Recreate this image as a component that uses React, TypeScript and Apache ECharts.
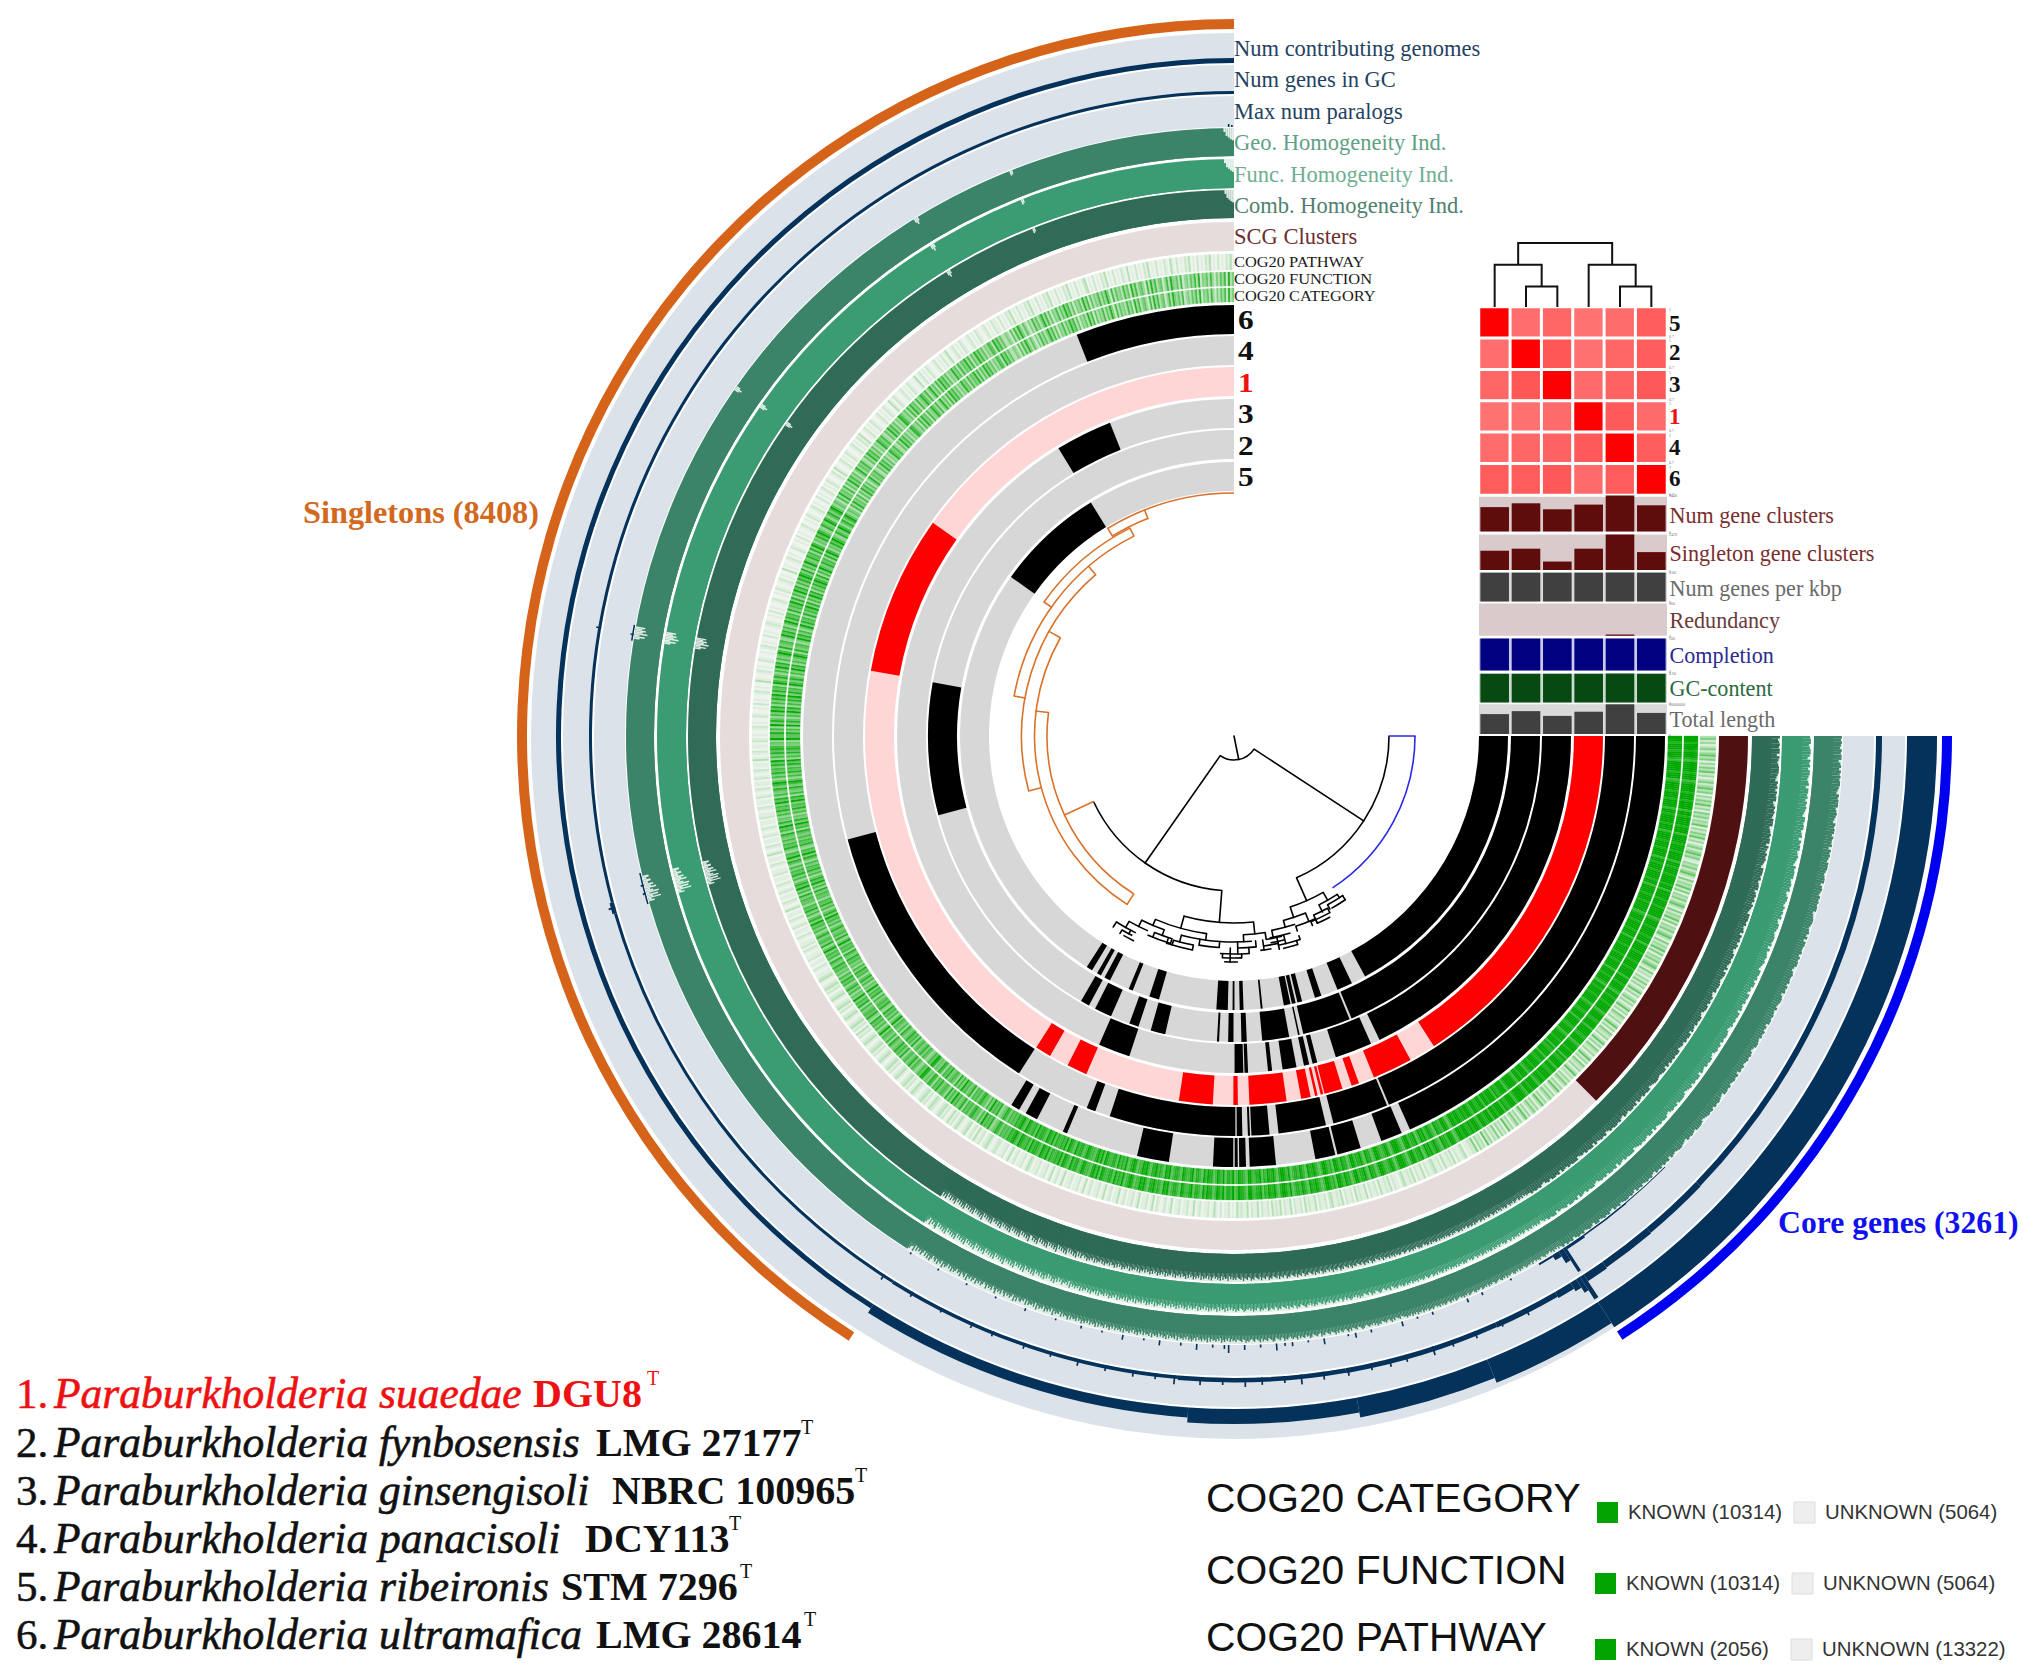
import React, { useEffect, useRef } from "react";
import * as echarts from "echarts";

// ---------- data (angles are positions along the 270 degree gene-cluster tree) ----------
const coreSpan = [0, 57.25];
const singletonSpan = [122.5, 270];

const ring5Present = [[0,61.4],[64.5,67.8],[71.4,72.8],[75.6,76.6],[77,77.8],[78.1,79.5],[84,84.4],[88,88.8],[89.9,90.3],[91.3,93.7],[105.9,108],[111.7,112.6],[116.9,118.2],[119.1,120],[121.2,122.5],[215.5,238.5]];
const ring2Present = [[0,67.4],[67.8,76.9],[77.6,77.9],[79.6,84.7],[87.6,88.6],[90.1,91.1],[92.8,93.2],[103,105.8],[108.2,110],[113.7,117],[118.3,120],[165,190.1]];
const ring3Present = [[0,64.4],[66,72.4],[75.7,76.5],[77.1,78],[79.3,81.7],[83.5,84.2],[87.6,88.2],[88.4,89.9],[108.1,113.6],[238.6,248.4]];
const ring1Present = [[0,57.2],[61.4,67.7],[70.2,71.4],[72.9,75.8],[76,76.4],[76.9,77.3],[78,79.5],[81.8,87.6],[89.4,90.1],[93.3,98.6],[113.6,116.8],[119.9,122.4],[190.2,215.3]];
const ring4Present = [[0,67.2],[67.5,75.6],[76.7,83.6],[84.9,87.5],[87.7,88],[88.8,89.6],[89.8,108.1],[110.3,111.6],[122.5,165]];
const ring6Present = [[0,65.9],[67.1,70],[72.9,76.1],[76.4,79.1],[84.4,87.9],[88.4,89.3],[89.5,89.9],[90.1,92.8],[98.7,103],[112.8,113.4],[117.2,118.9],[119.9,121.1],[248.6,270]];

const scgSpan = [[0, 45.2, 1]];

// one string per 30 degrees, digit = share of known functions in the bin
const cogKnownBins = [
  "999899989998799999899978999989998999979989999899979999899989999799899989999899799998999899999789998999989997999989999899",
  "989999799989998799899989999789998899979999889997899989997988999799889998998799989978999987999889799989979988997899898899",
  "899768997889678987989769887998678999768987789976889679887997688978996878997678988967897887697899867988978698877996788976",
  "978869789768897967886987789678876989678798867989776898769787968877896979867789768879678969787786978967887968778967987867",
  "675786548676957466875767486576957584676586747856589675467586576485768656847567596475768458676574867595647586476857465768",
  "568476759648576586475769586475867466758475968647586757468596745867575684769585647586759684756857964758675869475868756496",
  "685749586475968475869586749758647596847569748567459685746958674857695847596847586975847596586748597465869754865974685796",
  "465374856473648574635846574364857463548657436485746354875463748563745864735846374857463548563746584736485746354763857463",
  "354263748536425374635847362547364857362546384726354736485273645374628473564273847356247385463724536473825463742536472835",
];
const cogPathwayBins = [
  "352413524635142536241352463514253624153524361425362413524635214352463152436251435246315243625143524631524362514352463152",
  "314252413624135241362415324136241532413624153241362415324136231425314263142531426314253142631425314261324152314261324152",
  "211032112031211302113211203112031211320112031211302112031121302112031211320211203112130211203112031213021120311203112130",
  "102110201310211021031021102110310210120310211031021102103110210310211021031021102110310210310211021102310211021031021102",
  "210132102113021032101320213102132101231021321012310213210132102132101321021321013210213021321013210213210132102132101321",
  "101201102110120211012011021012011031012011021012011021101201103101201102101201102110120110210120110210120110310120110210",
  "100120100210010201001201003100120100210010120100201001210010201001200102100120100301001201002100102010012001021001201002",
  "010120102100120310012010210012010213001201021001201021003102100120102100130120102100120102013001201021001201021001201021",
  "102010213010201021301020102130102010213010201023010201021301020102103010201021301020102103102010213010201021301020102130",
];

// homogeneity digits: value = 0.7 + 0.033 * digit
const geoCore = "989879899689798989987698999789876989979889698987999878996898798989967899878979699889798997689889798968998797898996879897899768989879896989879899678989798987689997898967899878969897989679898798968989987989679898799689879898698979";
const funcCore = "899789986989799878969989798987699899789698997898769899978989679987989896799878998969789898769989799786998978969989897689989798986799897896998979876899979898679989879699789898769998978969899798986799897896989979878699897";
const combCore = "978989969878999876989798996798987999678989969879898769998978996898979876999897896989798679989879699878998967989799867998978969989787699898979699878998769989789698997896798998976989879699897876999897896989979867989897";
const geoAcc =
  "768576867567687658767568576786576857687567685768756786576857678567687567857686756785768657867586756867857685768576857686" +
  "654765475864576547685746576457865476547586457647586547654768457654785647657486576457685476547865476574865476457685476547" +
  "564736475836475647385647563746857364756483756473857463756483756473648573647564837564736485637564738564736475846375647385" +
  "463725463815364725463816354627143652738146352741635284163527314625371462538164273514637251463815372641583726147352618347";
const funcAcc =
  "876578686758768657867586768578657867568576857867586785768657867568785768586768576857867586785678657867586768576857867568" +
  "675486576457865476854765476857465786574685476578647568476547685746587654768547658476547685476578465768547685746578654768" +
  "574637485647385647584736574836574638574637485637465847365748364758463756483746583746574836475846375648374658473657483647" +
  "463816354725163847251638472635184726351847263518472635294736251847362518463725184736251847362518473625184736251973628147";
const combAcc =
  "786758678567857686578675867586786578675867856768578678567586786576857867586768578676857867568786576867856786578675867586" +
  "675864765476854765864765476586476547685476586475476854765847654768547658476547685476584765476854765847654768547658476547" +
  "574638564738574635847365748364758463748563746584736574836475846374856374658473657483647584637485637465847365748364758463" +
  "472618473625184736251947362518473625184736219473625184736251847362518472635184736251947362518473625184736251846372518473";
const homDips = [[164.2,164.35,0.78],[164.35,164.5,0.88],[164.5,164.62,0.52],[164.62,164.75,0.8],[164.75,164.9,0.6],[164.9,165,0.86],[165,165.15,0.55],[165.15,165.3,0.74],[165.3,165.45,0.84],[165.45,165.6,0.6],[165.6,165.75,0.78],[165.75,165.9,0.68],[165.9,166.1,0.86],[166.1,166.3,0.74],[166.3,166.5,0.88],[166.5,166.7,0.78],[189.2,189.35,0.8],[189.35,189.5,0.62],[189.5,189.65,0.82],[189.65,189.8,0.54],[189.8,189.95,0.72],[189.95,190.1,0.62],[190.1,190.25,0.76],[190.25,190.4,0.66],[214.7,214.85,0.82],[214.85,215,0.74],[215,215.15,0.84],[238.2,238.35,0.84],[238.35,238.5,0.76],[238.5,238.65,0.86],[248.3,248.45,0.82],[248.45,248.6,0.86],[269,269.2,0.86],[269.2,269.4,0.72],[269.4,269.6,0.66],[269.6,269.8,0.6],[269.8,270,0.56]];

const contributingSteps = [[0,57.25,6],[57.25,67.9,5],[67.9,79.5,4],[79.5,93.9,3],[93.9,122.4,2],[122.4,270,1]];
const geneLevels = [[0,44,6],[44,50,6.5],[50,55,7],[55,57,8],[57,57.4,27],[57.4,57.8,16],[57.8,58.4,10],[58.4,60,7],[60,66,5.5],[66,80,5],[80,95,4.5],[95,122,3.5],[122,164,3],[164,165,4.5],[165,270,3]];
const geneSpikes = [[63,8],[65.5,7],[68,7.5],[70.2,7],[72,9],[74.5,7.5],[76,8],[77.7,7],[79.8,8],[82,8],[84,10],[85.5,7],[87.5,7.5],[89,9],[91,7],[93,8],[95.3,9],[97,6],[99,6.5],[101.5,6],[104,7],[106.5,5.5],[109,6],[112,5.5],[114,6],[117,5],[120,5.5],[123,6],[164.5,7],[189.7,5]];
const paralogLevels = [[45,50,1],[50,55,1.5],[55,57,3],[57,57.3,28],[57.3,57.8,14],[57.8,58.5,6],[58.5,60,2],[164,167,1.5],[189,190.5,1.5]];
const paralogSpikes = [[63,2],[66,3],[67.5,4],[71,3],[72.5,2],[74,5],[77,3],[78.5,5],[79.2,2],[81.5,6],[83,2],[84.5,4],[85.2,3],[86,7],[87.5,3],[89,5],[90.5,8],[90.9,4],[92,3],[93.5,6],[95,3],[97,5],[98.5,2],[100.5,5],[102.5,2],[104.5,3],[107,2],[110,3],[113,2],[116,2],[119,2],[122,2],[165,3],[165.8,3],[189.6,3],[269.5,3],[269.8,2]];

// radial dendrogram: arcs [radius, from, to], radials [angle, from radius, to radius]
const treeArcsBlack = [[24,33.2,125],[155,0,66.2],[155,94.5,154.8],[180,60.3,71.8],[187,84,105.7],[189,56.9,63.3],[193,55.5,61],[198,55.8,60.5],[196,61.5,66],[201,61.5,67.5],[205,62,66],[191,68,75],[200,66,72],[198,72,79],[205,74,80],[210,76,80],[214,72,78],[218,73,77],[199.5,97.9,113.2],[206,94,104.8],[212,94,99.5],[213,101,106.5],[218,101,108],[206,109.8,116.6],[212,107,112],[217,107,113.5],[213,113.8,119.5],[220,116.5,122.3],[224,117,120],[228,116,119],[199,81,87.3],[206,85,94],[206,76.5,81],[212,84,89],[218,86,93.7],[222,88,93],[226,89,92.5],[212,78,82],[216,80,83]];
const treeRadialsBlack = [[78.6,0,24],[125,24,155],[33.2,24,155],[66.2,155,180],[94.5,155,187],[60.3,180,189],[56.9,189,193],[61,193,198],[55.8,193,198],[63.3,189,197],[61.5,196,201],[66,196,205],[67.5,201,205],[71.8,180,191],[68,191,200],[66,200,205],[72,200,205],[75,191,198],[79,198,205],[76,205,214],[72,210,214],[78,210,218],[73,214,218],[105.5,187,199.5],[84,187,199],[97.9,199.5,206],[94,206,212],[99.5,206,212],[104.8,206,213],[101,213,218],[108,213,218],[106.5,213,218],[113.2,199.5,206],[109.8,206,212],[112,212,217],[107,212,217],[116.6,206,213],[119.5,213,220],[122.3,220,226],[118,220,224],[120,224,228],[87.3,199,206],[81,199,206],[84,206,212],[89,206,218],[86,212,218],[91,212,226],[88,218,222],[93,218,222],[78,206,212],[82,206,216]];
const treeArcsOrange = [[187,122.6,187.2],[199.5,122.3,209.5],[212.5,165,229.4],[223.5,190.3,243.4],[232.5,215.2,243.4],[234,238.7,248.5],[243,238.7,270]];
const treeRadialsOrange = [[155,155,187],[122.4,187,199.5],[187.2,187,200],[165,200,212.5],[209.5,200,212.5],[190.3,212.5,223.5],[229.4,212.5,223.5],[215.2,223.5,232.5],[243.4,223.5,232.5],[238.7,234,243],[248.4,234,243]];
const treeArcsBlue = [[181,0,57]];
const treeRadialsBlue = [[0,155,181]];

// genome similarity matrix
const genomeOrder = ["5", "2", "3", "1", "4", "6"];
const similarity = [
  [1, 0.871, 0.88, 0.866, 0.873, 0.892],
  [0.871, 1, 0.899, 0.868, 0.88, 0.892],
  [0.88, 0.899, 1, 0.875, 0.885, 0.896],
  [0.866, 0.868, 0.875, 1, 0.894, 0.875],
  [0.873, 0.88, 0.885, 0.894, 1, 0.892],
  [0.892, 0.892, 0.896, 0.875, 0.892, 1],
];
// column dendrogram: [left x, right x, left foot, right foot, top]
const columnTree = [
  [1.5, 2.5, 0, 0, 0.32],
  [0.5, 2, 0, 0.32, 0.66],
  [4.5, 5.5, 0, 0, 0.32],
  [3.5, 5, 0, 0.32, 0.66],
  [1.25, 4.25, 0.66, 0.66, 1],
];
const numGeneClusters = [6400, 7400, 5830, 7060, 9448, 6880];
const singletonClusters = [1318, 1457, 578, 1457, 2428, 1225];
const genesPerKbp = [4.97, 4.98, 4.97, 4.98, 5.0, 4.98];
const redundancy = [0, 0, 0, 0, 4, 0];
const completion = [99.9, 99.9, 99.9, 99.9, 100, 99.9];
const gcContent = [0.595, 0.595, 0.595, 0.595, 0.6, 0.595];
const totalLength = [6700000, 7700000, 6100000, 7500000, 10000000, 7100000];

const ringLabels = [["6",320],["4",351],["1",383],["3",414],["2",446],["5",477]];
const layerTitles = [
  ["Num contributing genomes", 48, "#1f4263"],
  ["Num genes in GC", 79, "#1f4263"],
  ["Max num paralogs", 111, "#1f4263"],
  ["Geo. Homogeneity Ind.", 142, "#5f9f85"],
  ["Func. Homogeneity Ind.", 174, "#6fae93"],
  ["Comb. Homogeneity Ind.", 205, "#4f8070"],
  ["SCG Clusters", 236, "#6b2f2f"],
];
const cogTitles = [["COG20 PATHWAY", 262], ["COG20 FUNCTION", 279], ["COG20 CATEGORY", 296]];
const barTitles = [
  ["Num gene clusters", 515, "#7a2d2d", "9448"],
  ["Singleton gene clusters", 553, "#7a2d2d", "2428"],
  ["Num genes per kbp", 588, "#6a6a6a", "5.00"],
  ["Redundancy", 620, "#6b3a3a", "100"],
  ["Completion", 655, "#2a2a90", "100"],
  ["GC-content", 688, "#2b6a3c", "0.60"],
  ["Total length", 719, "#6a6a6a", "10000000"],
];
const species = [
  ["1.", "Paraburkholderia suaedae", "DGU8", 1393, "#ee1111", 533, 647],
  ["2.", "Paraburkholderia fynbosensis", "LMG 27177", 1442, "#111111", 596, 801],
  ["3.", "Paraburkholderia ginsengisoli", "NBRC 100965", 1490, "#111111", 612, 855],
  ["4.", "Paraburkholderia panacisoli", "DCY113", 1538, "#111111", 585, 729],
  ["5.", "Paraburkholderia ribeironis", "STM 7296", 1586, "#111111", 561, 740],
  ["6.", "Paraburkholderia ultramafica", "LMG 28614", 1634, "#111111", 596, 804],
];
const cogLegend = [
  ["COG20 CATEGORY", 1498, "KNOWN (10314)", "UNKNOWN (5064)", 1512, 1597, 1794],
  ["COG20 FUNCTION", 1570, "KNOWN (10314)", "UNKNOWN (5064)", 1583, 1595, 1792],
  ["COG20 PATHWAY", 1637, "KNOWN (2056)", "UNKNOWN (13322)", 1649, 1595, 1791],
];

// ---------- helpers ----------
const SERIF = '"Liberation Serif", serif';
const SANS = '"Liberation Sans", sans-serif';
const mix = (t: number) => {
  const a = [238, 243, 238], b = [0, 168, 0];
  const k = Math.pow(t, 1.25);
  const c = a.map((v, i) => Math.round(v + (b[i] - v) * k));
  return `rgb(${c[0]},${c[1]},${c[2]})`;
};
const digitBins = (chunks: string[], span: number) => {
  const out: number[][] = [];
  chunks.forEach((s, k) => {
    const w = span / s.length;
    for (let i = 0; i < s.length; i++) out.push([k * span + i * w, k * span + (i + 1) * w, +s[i]]);
  });
  return out;
};
const spanBins = (s: string, from: number, to: number) => {
  const w = (to - from) / s.length;
  return Array.from(s).map((d, i) => [from + i * w, from + (i + 1) * w, 0.7 + 0.033 * +d]);
};
const polar = (api: any, cs: any, r: number, a: number) => {
  const p = api.coord([r, a]);
  return { r: Math.hypot(p[0] - cs.cx, p[1] - cs.cy), a: Math.atan2(p[1] - cs.cy, p[0] - cs.cx) };
};
const sector = (api: any, cs: any, lo: number, hi: number, a0: number, a1: number, style: any) => {
  const s = polar(api, cs, lo, a0);
  const e = polar(api, cs, hi, a1);
  let end = e.a;
  if (end <= s.a) end += Math.PI * 2;
  return {
    type: "sector",
    silent: true,
    shape: { cx: cs.cx, cy: cs.cy, r0: s.r, r: e.r, startAngle: s.a, endAngle: end, clockwise: true },
    style,
  };
};
const polarCustom = (data: any[], renderItem: any) => ({
  type: "custom", coordinateSystem: "polar", polarIndex: 0, clip: false, silent: true, data, renderItem,
});
const ring = (data: any[], inner: number, outer: number, max: number, color: string, opts: { seam?: boolean; fromTop?: boolean } = {}) =>
  polarCustom(data, (params: any, api: any) => {
    const v = api.value(2);
    const h = inner + ((outer - inner) * Math.min(v, max)) / max;
    return sector(api, params.coordSys, opts.fromTop ? h : inner, opts.fromTop ? outer : h, api.value(0), api.value(1),
      opts.seam ? { fill: color, stroke: color, lineWidth: 0.3 } : { fill: color });
  });
// COG bins fill the full height of their ring, their colour comes from the digit
const cogRing = (data: number[][], inner: number, outer: number) =>
  polarCustom(data, (params: any, api: any) => {
    const fill = mix(api.value(2) / 9);
    return sector(api, params.coordSys, inner, outer, api.value(0), api.value(1), { fill, stroke: fill, lineWidth: 0.3 });
  });
const spikes = (list: number[][], w: number) => list.map(([a, v]) => [a - w / 2, a + w / 2, v]);
const arcSeries = (data: number[][], stroke: string, lw: number) =>
  polarCustom(data, (params: any, api: any) => {
    const cs = params.coordSys;
    const s = polar(api, cs, api.value(0), api.value(1));
    const e = polar(api, cs, api.value(0), api.value(2));
    let end = e.a;
    if (end <= s.a) end += Math.PI * 2;
    return { type: "arc", silent: true, shape: { cx: cs.cx, cy: cs.cy, r: s.r, startAngle: s.a, endAngle: end, clockwise: true }, style: { stroke, lineWidth: lw, fill: null } };
  });
const radialSeries = (data: number[][], stroke: string, lw: number) =>
  polarCustom(data, (_params: any, api: any) => {
    const p = api.coord([api.value(1), api.value(0)]);
    const q = api.coord([api.value(2), api.value(0)]);
    return { type: "line", silent: true, shape: { x1: p[0], y1: p[1], x2: q[0], y2: q[1] }, style: { stroke, lineWidth: lw, lineCap: "round" } };
  });

const GRID_L = 1479, GRID_W = 188;
const barGrids = [
  [495.5, 36, 9448, numGeneClusters, "#5e0c0c", "#d9cbcb"],
  [534.5, 35.5, 2428, singletonClusters, "#5e0c0c", "#d9cbcb"],
  [572.5, 29, 5, genesPerKbp, "#404040", "#d9d9d9"],
  [603.5, 32.3, 100, redundancy, "#5e0c0c", "#d9cbcb"],
  [638.5, 32, 100, completion, "#000080", "#c9c9e6"],
  [673.5, 29, 0.6, gcContent, "#064a12", "#cddbcf"],
  [704.3, 29.7, 10000000, totalLength, "#404040", "#d9d9d9"],
];

const text = (t: string, x: number, y: number, fontSize: number, fill: string, o: any = {}) => ({
  type: "text", x, y, silent: true, z: 50, scaleX: o.scaleX || 1,
  style: {
    text: t, fontSize, fill, fontFamily: o.family || SERIF, fontWeight: o.weight || "normal", fontStyle: o.style || "normal",
    textAlign: "left", textVerticalAlign: "middle", stroke: o.stroke ? fill : undefined, lineWidth: o.stroke || 0,
  },
});

export default function App() {
  const ref = useRef<HTMLDivElement>(null);
  useEffect(() => {
    const chart = echarts.init(ref.current!, undefined, { renderer: "svg" });

    const series: any[] = [];
    // genome rings, from the centre outwards
    const genomeRings: any[] = [
      [245, 274, ring5Present, "#d7d7d7", "#000"],
      [277, 306, ring2Present, "#d7d7d7", "#000"],
      [308, 337, ring3Present, "#d7d7d7", "#000"],
      [340, 369, ring1Present, "#ffd6d6", "#ff0000"],
      [371, 400, ring4Present, "#d7d7d7", "#000"],
      [402, 431, ring6Present, "#d7d7d7", "#000"],
    ];
    genomeRings.forEach(([i, o, segs, bg, fg]) => {
      series.push(ring([[0, 270, 1]], i, o, 1, bg));
      series.push(ring(segs.map((s: number[]) => [s[0], s[1], 1]), i, o, 1, fg));
    });
    // COG rings
    const known = digitBins(cogKnownBins, 30);
    const pathway = digitBins(cogPathwayBins, 30);
    series.push(cogRing(known, 434, 448));
    series.push(cogRing(known, 450, 464));
    series.push(cogRing(pathway, 466, 482));
    // SCG
    series.push(ring([[0, 270, 1]], 485, 514, 1, "#e6dcdc"));
    series.push(ring(scgSpan, 485, 514, 1, "#4e1010"));
    // homogeneity
    const hom: any[] = [
      [518, 546, "#2f6b56", "#dfeae5", combCore, combAcc],
      [548, 577, "#3b9b72", "#e3f0ea", funcCore, funcAcc],
      [580, 608, "#3c8469", "#e0ebe6", geoCore, geoAcc],
    ];
    hom.forEach(([i, o, c, bg, coreD, accD]) => {
      series.push(ring([[0, 270, 1]], i, o, 1, bg));
      series.push(ring([[0, 270, 0.7]], i, o, 1, c));
      series.push(ring(spanBins(coreD, coreSpan[0], coreSpan[1]), i, o, 1, c));
      series.push(ring(spanBins(accD, coreSpan[1], singletonSpan[0]), i, o, 1, c));
      series.push(ring([[singletonSpan[0], singletonSpan[1], 1]], i, o, 1, c));
      series.push(ring(homDips, i, o, 1, bg, { fromTop: true }));
    });
    // paralogs, genes, contributing genomes
    const pale = "#dce2e9", navy = "#04325a";
    series.push(ring([[0, 270, 1]], 609, 640, 1, pale));
    series.push(ring(paralogLevels, 609, 640, 31, navy));
    series.push(ring(spikes(paralogSpikes, 0.15), 609, 640, 31, navy));
    series.push(ring([[0, 270, 1]], 642, 671, 1, pale));
    series.push(ring(geneLevels, 642, 671, 29, navy));
    series.push(ring(spikes(geneSpikes, 0.15), 642, 671, 29, navy));
    series.push(ring([[0, 270, 1]], 673, 703, 1, pale));
    series.push(ring(contributingSteps, 673, 703, 6, navy));
    // outer bins
    series.push(ring([[singletonSpan[0], singletonSpan[1], 1]], 707, 717, 1, "#d5641a"));
    series.push(ring([[coreSpan[0], coreSpan[1], 1]], 708, 718, 1, "#0000f0"));
    // radial dendrogram
    series.push(arcSeries(treeArcsBlack, "#000", 1.6));
    series.push(radialSeries(treeRadialsBlack, "#000", 1.6));
    series.push(arcSeries(treeArcsOrange, "#d9722a", 1.6));
    series.push(radialSeries(treeRadialsOrange, "#d9722a", 1.6));
    series.push(arcSeries(treeArcsBlue, "#2a2ae0", 1.6));
    series.push(radialSeries(treeRadialsBlue, "#2a2ae0", 1.6));

    const heatSeriesIndex = series.length;
    const heatData: number[][] = [];
    similarity.forEach((row, y) => row.forEach((v, x) => heatData.push([x, y, v])));
    series.push({
      type: "heatmap", xAxisIndex: 0, yAxisIndex: 0, data: heatData, silent: true,
      itemStyle: { borderColor: "#fff", borderWidth: 3 },
    });
    series.push({
      type: "custom", xAxisIndex: 1, yAxisIndex: 1, coordinateSystem: "cartesian2d", clip: false, silent: true,
      data: columnTree,
      renderItem: (_p: any, api: any) => {
        const l = api.value(0), r = api.value(1), hl = api.value(2), hr = api.value(3), t = api.value(4);
        const pts = [[l, hl], [l, t], [r, t], [r, hr]].map((q) => api.coord(q));
        return { type: "polyline", silent: true, shape: { points: pts }, style: { stroke: "#111", lineWidth: 2, fill: null } };
      },
    });

    const grids: any[] = [
      { left: GRID_L, top: 307, width: GRID_W, height: 188 },
      { left: GRID_L, top: 243, width: GRID_W, height: 64 },
    ];
    const xAxis: any[] = [
      { type: "category", gridIndex: 0, data: genomeOrder, show: false },
      { type: "value", gridIndex: 1, min: 0, max: 6, show: false },
    ];
    const yAxis: any[] = [
      { type: "category", gridIndex: 0, data: genomeOrder, inverse: true, show: false },
      { type: "value", gridIndex: 1, min: 0, max: 1, show: false },
    ];
    barGrids.forEach(([top, height, max, values, color, bg]: any, i) => {
      grids.push({ left: GRID_L, top, width: GRID_W, height, show: true, backgroundColor: bg, borderWidth: 0 });
      xAxis.push({ type: "category", gridIndex: i + 2, data: genomeOrder, show: false });
      yAxis.push({ type: "value", gridIndex: i + 2, min: 0, max, show: false });
      series.push({
        type: "bar", xAxisIndex: i + 2, yAxisIndex: i + 2, data: values, barWidth: 28.6, silent: true,
        itemStyle: { color },
      });
    });

    // ---- texts ----
    const g: any[] = [];
    layerTitles.forEach(([t, y, c]: any) => g.push(text(t, 1234, y, 22.5, c)));
    cogTitles.forEach(([t, y]: any) => g.push(text(t, 1234, y, 15.2, "#1a1a1a", { scaleX: 1.08 })));
    ringLabels.forEach(([t, y]: any) => g.push(text(t, 1238, y, 28, t === "1" ? "#ee1111" : "#111", { weight: "bold", scaleX: 1.12 })));
    const heatLabelY = [323, 352.5, 384, 416, 447, 478.6];
    genomeOrder.forEach((t, i) => {
      g.push(text(t, 1669, heatLabelY[i], 23, t === "1" ? "#ee1111" : "#111", { weight: "bold" }));
      g.push(text("1", 1669, 309 + i * 31.6, 4, "#777"));
      g.push(text("0.7", 1669, 336 + i * 31.6, 4, "#777"));
    });
    barTitles.forEach(([t, y, c, top]: any, i) => {
      g.push(text(t, 1669.5, y, 22.1, c));
      const b = barGrids[i] as any[];
      g.push(text(top, 1669, b[0] as number, 4, "#777"));
      g.push(text("0", 1669, (b[0] as number) + (b[1] as number) + 1, 4, "#777"));
    });
    g.push(text("Singletons (8408)", 303, 512, 32.3, "#d2691e", { weight: "bold" }));
    g.push(text("Core genes (3261)", 1778, 1222, 31.7, "#1111ee", { weight: "bold" }));
    species.forEach(([n, sp, st, y, c, sx, tx]: any) => {
      g.push(text(n, 16, y, 43, c, { stroke: 0.5 }));
      g.push(text(sp, 54, y, 43.5, c, { style: "italic", stroke: 0.6 }));
      g.push(text(st, sx, y, 40, c, { weight: "bold" }));
      g.push(text("T", tx, y - 15, 20, c));
    });
    cogLegend.forEach(([t, y, k, u, ky, gx, ux]: any) => {
      g.push(text(t, 1206, y, 40.8, "#111", { family: SANS }));
      g.push({ type: "rect", silent: true, z: 50, shape: { x: gx, y: ky - 10, width: 21, height: 21 }, style: { fill: "#00a300" } });
      g.push(text(k, gx + 31, ky, 20.4, "#333", { family: SANS }));
      g.push({ type: "rect", silent: true, z: 50, shape: { x: ux, y: ky - 10, width: 21, height: 21 }, style: { fill: "#eeeeee", stroke: "#dddddd", lineWidth: 1 } });
      g.push(text(u, ux + 31, ky, 20.4, "#333", { family: SANS }));
    });

    chart.setOption({
      animation: false,
      backgroundColor: "#fff",
      polar: { center: [1234, 736], radius: [0, 720] },
      radiusAxis: { type: "value", polarIndex: 0, min: 0, max: 720, show: false },
      angleAxis: { type: "value", polarIndex: 0, min: 0, max: 360, startAngle: 0, clockwise: true, show: false },
      grid: grids,
      xAxis,
      yAxis,
      visualMap: { show: false, type: "continuous", min: 0.7, max: 1, seriesIndex: heatSeriesIndex, inRange: { color: ["#ffffff", "#ff0000"] } },
      series,
      graphic: { elements: g },
    });
    return () => chart.dispose();
  }, []);
  return <div ref={ref} style={{ position: "absolute", left: 0, top: 0, width: 2023, height: 1667 }} />;
}
